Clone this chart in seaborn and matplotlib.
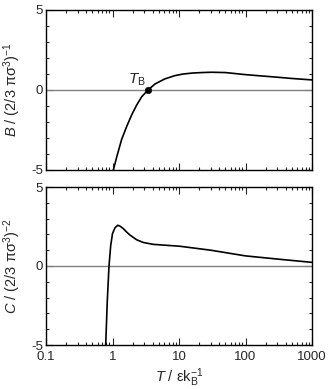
import numpy as np
import pandas as pd
import matplotlib
matplotlib.use("Agg")
import matplotlib.pyplot as plt
import seaborn as sns
from matplotlib.ticker import MultipleLocator, LogLocator, NullFormatter, FixedLocator, FixedFormatter

# Data
T_B_curve = [1.03, 1.16, 1.37, 1.63, 1.94, 2.31, 2.75, 3.42, 4.35, 6.1, 8.7, 11.6,
             16, 22, 31, 50, 100, 185, 300, 500, 1000]
B_values = [-5.0, -4.17, -3.1, -2.29, -1.56, -0.94, -0.42, 0.0, 0.375, 0.69, 0.9, 1.0,
            1.06, 1.09, 1.11, 1.09, 0.96, 0.87, 0.8, 0.72, 0.63]

T_C_curve = [0.79, 0.835, 0.886, 0.94, 1.0, 1.09, 1.2, 1.3, 1.45, 1.63, 1.83, 2.31, 2.9,
             4.1, 6.5, 10.3, 30, 100, 300, 1000]
C_values = [-5.0, -2.2, 0.0, 1.3, 2.05, 2.42, 2.58, 2.52, 2.37, 2.15, 1.96, 1.66, 1.49,
            1.37, 1.31, 1.25, 1.0, 0.64, 0.44, 0.23]

T_Boyle = [3.42]
B_Boyle = [0.0]

x_ticks = [0.1, 1, 10, 100, 1000]
x_tick_labels = ["0.1", "1", "10", "100", "1000"]
y_ticks = [-5, 0, 5]
y_tick_labels = ["-5", "0", "5"]

sns.set_style("ticks")
plt.rcParams["font.family"] = ["Liberation Sans", "DejaVu Sans"]
plt.rcParams["mathtext.fontset"] = "custom"
plt.rcParams["mathtext.rm"] = "Liberation Sans"
plt.rcParams["mathtext.it"] = "Liberation Sans:italic"
plt.rcParams["mathtext.bf"] = "Liberation Sans:bold"

dfB = pd.DataFrame({"T": T_B_curve, "B": B_values})
dfC = pd.DataFrame({"T": T_C_curve, "C": C_values})
dfTB = pd.DataFrame({"T": T_Boyle, "B": B_Boyle})

fig = plt.figure(figsize=(3.30, 3.89), dpi=100)
ax1 = fig.add_axes([46/330, 1 - 170/389, 266/330, 160/389])
ax2 = fig.add_axes([46/330, 1 - 345/389, 266/330, 158/389])

for ax in (ax1, ax2):
    ax.axhline(0, color="#808080", lw=1.0, zorder=1)

sns.lineplot(data=dfB, x="T", y="B", ax=ax1, color="black", lw=1.2, zorder=3)
sns.scatterplot(data=dfTB, x="T", y="B", ax=ax1, color="black", s=22, zorder=4,
                edgecolor="black")
sns.lineplot(data=dfC, x="T", y="C", ax=ax2, color="black", lw=1.2, zorder=3)

ax1.text(2.35, 0.65, r"$\mathit{T}_{\mathrm{B}}$", fontsize=11, ha="center", va="center")

for ax in (ax1, ax2):
    ax.set_xscale("log")
    ax.set_xlim(0.1, 1000)
    ax.set_ylim(-5, 5)
    ax.xaxis.set_major_locator(FixedLocator(x_ticks))
    ax.xaxis.set_minor_locator(LogLocator(base=10, subs=np.arange(2, 10)))
    ax.xaxis.set_minor_formatter(NullFormatter())
    ax.yaxis.set_major_locator(FixedLocator(y_ticks))
    ax.yaxis.set_major_formatter(FixedFormatter(y_tick_labels))
    ax.yaxis.set_minor_locator(MultipleLocator(1))
    ax.tick_params(which="both", direction="in", top=True, right=True, width=0.8,
                   labelsize=9.5, pad=2)
    ax.tick_params(which="major", length=5)
    ax.tick_params(which="minor", length=2.5)
    for s in ax.spines.values():
        s.set_visible(True)
        s.set_linewidth(1.0)
        s.set_color("black")

ax1.set_xticklabels([])
ax1.set_xlabel("")
ax2.xaxis.set_major_formatter(FixedFormatter(x_tick_labels))
ax2.tick_params(axis="x", which="major", pad=4)

ax1.set_ylabel(r"$\mathit{B}$ / (2/3 $\mathrm{\pi\sigma}^{3}$)$^{-1}$", fontsize=10.5, labelpad=3)
ax2.set_ylabel(r"$\mathit{C}$ / (2/3 $\mathrm{\pi\sigma}^{3}$)$^{-2}$", fontsize=10.5, labelpad=3)
ax2.set_xlabel(r"$\mathit{T}$ / $\mathrm{\varepsilon k}_{\mathrm{B}}^{-1}$", fontsize=10.5, labelpad=3)
ax1.yaxis.set_label_coords(-0.085, 0.5)
ax2.yaxis.set_label_coords(-0.085, 0.5)

fig.savefig("out.png", dpi=100)
